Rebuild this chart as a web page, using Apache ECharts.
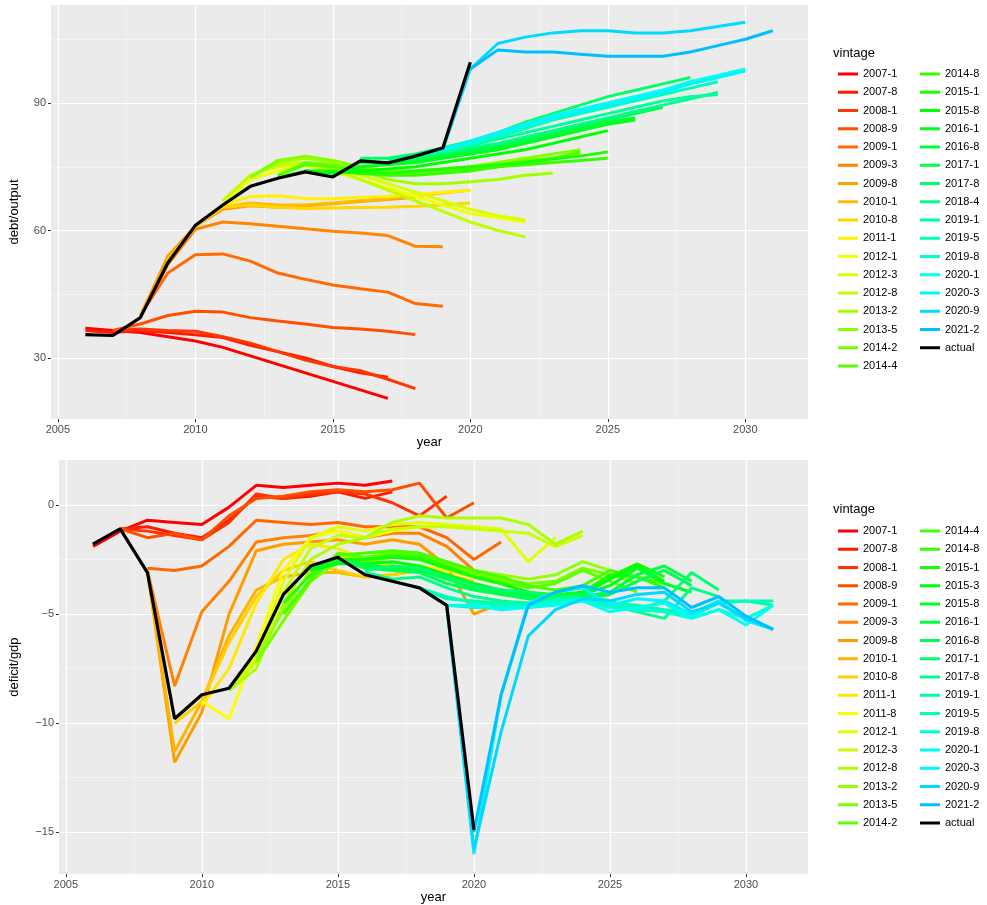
<!doctype html>
<html>
<head>
<meta charset="UTF-8">
<title>vintage</title>
<script src="https://cdn.jsdelivr.net/npm/echarts@6/dist/echarts.min.js"></script>
<style>html,body{margin:0;padding:0;background:#fff}#main{width:987px;height:905px}</style>
</head>
<body>
<div id="main"></div>
<script>
// ---- debt/output (top panel) ----
var debtVintages = ['2007-1','2007-8','2008-1','2008-9','2009-1','2009-3','2009-8','2010-1','2010-8','2011-1',
  '2012-1','2012-3','2012-8','2013-2','2013-5','2014-2','2014-4','2014-8','2015-1','2015-8','2016-1','2016-8',
  '2017-1','2017-8','2018-4','2019-1','2019-5','2019-8','2020-1','2020-3','2020-9','2021-2'];
var debtStart = [2006,2006,2007,2007,2008,2008,2008,2009,2009,2010,
  2011,2011,2011,2012,2012,2013,2013,2013,2014,2014,2015,2015,
  2016,2016,2017,2018,2018,2018,2019,2019,2019,2020];
var debtValues = [
  [37,36.5,36,35,34,32.5,30.5,28.5,26.5,24.5,22.5,20.5],
  [36.5,36,36.5,36,35.5,34.8,33,31.5,30,28,26.5,25.5],
  [36.5,36.8,36.5,36.3,35,33.5,31.5,29.5,28,27,25,22.8],
  [36.5,38,40,41,40.8,39.5,38.7,38,37.2,36.8,36.3,35.5],
  [40,50,54.3,54.5,52.8,50,48.5,47.2,46.3,45.5,42.8,42.2],
  [40,52,60.3,62,61.6,61,60.4,59.8,59.4,58.8,56.3,56.2],
  [40,54,61,65,65.8,65.5,65.8,66.3,66.8,67.3,67.8],
  [53,61,65.5,66.5,66,66,66.5,67,67.5,68.2,68.8,69.5],
  [53,61,65.5,66,65.5,65.2,65.3,65.4,65.5,65.7,66,66.5],
  [61,66,68,68.2,67.5,67.5,67.8,68,68.5,69,69.5],
  [66,72,74,75.3,74,72,70,68,66,64,63,62],
  [67,73,75,75.5,74.5,73,71,69,67,65,63.5,62.5],
  [67,73,75.5,76,74.5,72,69.5,67,64.5,62,60,58.5],
  [72.5,76,77,76,74,72,71,71,71.5,72,73,73.5],
  [72.5,76.5,77.5,76.5,75,74,74,74.5,75,76,77,78,79],
  [73,76,75.5,74.5,73.5,73.5,74,74.5,75.5,76.5,77,78],
  [73,75.5,75,74,73.5,73.5,73.8,74.3,75,76,77,78.5],
  [72.5,74,74,73.5,73,73,73.5,74,75,75.5,76,76.5,77],
  [74,74,73.5,73.5,74,74.5,75,75.5,76,76.8,77.5,78.5],
  [74,73.5,74,74.5,75,76,77,78,79,80.5,82,83.5],
  [73,75,75.5,76,77,78,79,80.5,82,83.5,85,86],
  [73,76,76,76.5,77.5,78.5,79.5,81,82.5,84,85.5,86.5],
  [76,76,77,78,79,80,81.5,83,84.5,86,87.5,89],
  [77,77,78,79.5,81,83,85.5,87.5,89.5,91.5,93,94.5,96],
  [76.5,77.5,78.5,79.5,80.5,82,83.5,85,86.5,88,89.5,91,92.5],
  [77.5,78.5,80,81.5,83,84.5,86,87.5,89,90.5,91.5,92],
  [77.5,79,80.5,82,84,86,87.5,89,90.5,92,93.5,95],
  [77.5,79,80.5,82.5,84.5,86.5,88.5,90,91.5,93,94.5,96],
  [79,81,83,85,87,88.5,90,91.5,93,95,96.5,98],
  [79,81,83,85,86.5,88,89.5,91,92.5,94.5,96,97.5],
  [79,98,104,105.5,106.5,107,107,106.5,106.5,107,108,109],
  [98,102.5,102,102,101.5,101,101,101,102,103.5,105,107]
];
var debtActualStart = 2006;
var debtActual = [35.5,35.3,39.5,52.4,61.2,66,70.4,72.3,73.8,72.6,76.4,75.9,77.5,79.4,99.6];

// ---- deficit/gdp (bottom panel) ----
var defVintages = ['2007-1','2007-8','2008-1','2008-9','2009-1','2009-3','2009-8','2010-1','2010-8','2011-1','2011-8',
  '2012-1','2012-3','2012-8','2013-2','2013-5','2014-2','2014-4','2014-8','2015-1','2015-3','2015-8','2016-1','2016-8',
  '2017-1','2017-8','2019-1','2019-5','2019-8','2020-1','2020-3','2020-9','2021-2'];
var defStart = [2006,2006,2007,2007,2008,2008,2008,2008,2009,2010,2010,
  2011,2011,2011,2012,2012,2013,2013,2013,2014,2014,2014,2015,2015,
  2016,2016,2018,2018,2018,2019,2019,2019,2020];
var defValues = [
  [-1.9,-1.2,-0.7,-0.8,-0.9,-0.1,0.9,0.8,0.9,1.0,0.9,1.1],
  [-1.8,-1.1,-1.0,-1.3,-1.5,-0.7,0.4,0.3,0.4,0.6,0.3,0.6],
  [-1.1,-1.2,-1.4,-1.6,-0.8,0.5,0.3,0.5,0.6,0.5,0.1,-0.5,0.4],
  [-1.1,-1.5,-1.3,-1.6,-0.5,0.3,0.4,0.6,0.7,0.6,0.7,1.0,-0.6,0.1],
  [-2.9,-3.0,-2.8,-1.9,-0.7,-0.8,-0.9,-0.8,-1.0,-1.0,-1.0,-1.5,-2.5,-1.7],
  [-3.0,-8.3,-4.9,-3.5,-1.7,-1.5,-1.4,-1.2,-1.5,-1.3,-1.3,-1.9,-3.0],
  [-3.0,-11.8,-9.5,-5.0,-2.1,-1.8,-1.7,-1.6,-1.8,-1.6,-1.8,-2.8,-5.0,-4.5],
  [-3.0,-11.3,-9.0,-6.0,-3.9,-3.3,-3.1,-3.1,-3.3,-3.2,-3.0,-3.2,-3.6],
  [-10.0,-9.0,-6.3,-4.2,-3.0,-2.6,-3.0,-3.3,-3.2,-3.0,-3.2,-3.5],
  [-9.2,-7.5,-4.5,-2.5,-1.8,-2.0,-2.5,-2.8,-2.8,-3.0,-3.3,-3.4],
  [-9.0,-9.8,-6.5,-3.0,-1.5,-1.2,-1.5,-1.2,-1.0,-1.0,-1.0,-1.2],
  [-8.5,-7.0,-3.5,-1.5,-1.0,-1.2,-0.9,-0.8,-0.9,-1.0,-1.1,-2.6,-1.5],
  [-8.5,-7.2,-4.0,-2.0,-1.4,-1.5,-1.1,-1.0,-1.0,-1.1,-1.2,-1.3,-1.9,-1.4],
  [-8.5,-7.5,-4.5,-2.5,-1.8,-1.5,-0.8,-0.5,-0.6,-0.6,-0.6,-0.9,-1.8,-1.2],
  [-7.0,-4.8,-3.0,-2.3,-2.5,-2.4,-2.3,-2.6,-3.0,-3.2,-3.4,-3.2,-2.6,-3.0,-3.3],
  [-7.2,-5.3,-3.5,-2.6,-2.6,-2.4,-2.3,-2.7,-3.1,-3.4,-3.6,-3.5,-2.9,-3.2,-3.6],
  [-5.0,-3.5,-2.2,-2.4,-2.2,-2.3,-2.8,-3.2,-3.5,-3.8,-3.6,-3.0,-3.5,-4.0],
  [-5.0,-3.4,-2.3,-2.2,-2.1,-2.2,-2.6,-3.0,-3.3,-3.7,-3.9,-3.7,-3.0,-3.3,-3.6],
  [-4.5,-3.2,-2.5,-2.5,-2.3,-2.4,-2.8,-3.3,-3.6,-4.0,-4.1,-4.0,-3.2,-3.3,-3.8],
  [-3.0,-2.6,-2.5,-2.4,-2.5,-2.9,-3.3,-3.6,-4.0,-4.2,-4.0,-3.3,-2.7,-3.3],
  [-3.0,-2.7,-2.7,-2.6,-2.8,-3.2,-3.6,-3.9,-4.2,-4.3,-4.1,-3.4,-2.8,-3.5],
  [-2.9,-2.6,-2.8,-2.9,-2.9,-3.3,-3.7,-3.9,-4.1,-4.2,-4.1,-3.7,-2.9,-3.6,-4.0],
  [-2.5,-2.7,-2.9,-3.0,-3.4,-3.8,-4.0,-4.2,-4.3,-4.2,-4.0,-3.2,-2.8,-3.5],
  [-2.5,-2.9,-3.0,-3.1,-3.6,-3.9,-4.1,-4.3,-4.4,-4.3,-4.1,-3.5,-3.0,-3.7],
  [-3.0,-2.8,-2.9,-3.3,-3.7,-3.9,-4.0,-4.2,-4.1,-4.4,-4.8,-4.4,-3.1,-3.9],
  [-3.1,-3.4,-3.3,-3.8,-4.2,-4.4,-4.5,-4.4,-4.3,-4.6,-4.9,-5.2,-3.8,-4.2],
  [-3.8,-4.3,-4.4,-4.5,-4.5,-4.3,-4.3,-4.5,-4.6,-4.8,-5.0,-4.4,-4.4,-4.6],
  [-3.8,-4.2,-4.5,-4.6,-4.6,-4.4,-4.3,-4.5,-4.7,-4.9,-5.1,-4.5,-4.4,-4.4],
  [-3.8,-4.6,-4.7,-4.7,-4.7,-4.5,-4.4,-4.7,-4.8,-4.9,-5.2,-4.8,-5.2,-4.6],
  [-4.6,-4.6,-4.8,-4.7,-4.6,-4.4,-4.9,-4.7,-4.5,-5.2,-4.8,-5.5,-4.6],
  [-4.6,-16.0,-8.7,-4.5,-4.0,-3.8,-4.6,-4.3,-4.4,-5.0,-4.4,-5.3,-5.7],
  [-4.6,-15.8,-10.4,-6.0,-4.8,-4.3,-4.4,-4.1,-4.0,-4.9,-4.5,-5.2,-5.7],
  [-15.0,-8.7,-4.6,-4.0,-3.7,-4.0,-3.8,-3.8,-4.7,-4.2,-5.1,-5.7]
];
var defActualStart = 2006;
var defActual = [-1.8,-1.1,-3.1,-9.8,-8.7,-8.4,-6.7,-4.1,-2.8,-2.4,-3.2,-3.5,-3.8,-4.6,-14.9];

var xMajor = [2005,2010,2015,2020,2025,2030];
var xMinor = [2007.5,2012.5,2017.5,2022.5,2027.5];
var debtMajor = [30,60,90];
var debtMinor = [15,45,75,105];
var defMajor = [-15,-10,-5,0];
var defMinor = [-12.5,-7.5,-2.5];

var FONT = 'Liberation Sans';
var myChart = echarts.init(document.getElementById('main'));

function hueColor(i, n) {
  return 'hsl(' + (i * 195 / (n - 1)).toFixed(1) + ',100%,50%)';
}
function toPoints(start, vals) {
  return vals.map(function (v, k) { return [start + k, v]; });
}

var series = [];
var legends = [];
var xAxes = [], yAxes = [];

function buildPanel(gi, names, starts, values, aStart, aVals, yMin, yMax, yMajor, yMinor, legendTop) {
  var n = names.length;
  // major axes (labels, ticks, main grid) and minor axes (thin grid only)
  xAxes.push({
    type: 'value', gridIndex: gi, min: 2004.75, max: 2032.28, position: 'bottom',
    name: 'year', nameLocation: 'middle', nameGap: 14,
    nameTextStyle: {fontFamily: FONT, fontSize: 13, color: '#000'},
    axisLine: {show: false, onZero: false},
    axisTick: {show: true, customValues: xMajor, length: 3, lineStyle: {color: '#333'}},
    axisLabel: {customValues: xMajor, color: '#4d4d4d', fontFamily: FONT, fontSize: 11, margin: 5,
      formatter: function (v) { return String(v); }},
    splitLine: {show: true, lineStyle: {color: '#fff', width: 1.2}}
  });
  xAxes.push({
    type: 'value', gridIndex: gi, min: 2004.75, max: 2032.28, position: 'bottom',
    axisLine: {show: false, onZero: false}, axisLabel: {show: false, customValues: xMinor},
    axisTick: {show: false, customValues: xMinor},
    splitLine: {show: true, lineStyle: {color: '#fafafa', width: 0.6}}
  });
  yAxes.push({
    type: 'value', gridIndex: gi, min: yMin, max: yMax, position: 'left',
    name: gi === 0 ? 'debt/output' : 'deficit/gdp',
    nameLocation: 'middle', nameGap: gi === 0 ? 30 : 38, nameRotate: 90,
    nameTextStyle: {fontFamily: FONT, fontSize: 13, color: '#000'},
    axisLine: {show: false, onZero: false},
    axisTick: {show: true, customValues: yMajor, length: 3, lineStyle: {color: '#333'}},
    axisLabel: {customValues: yMajor, color: '#4d4d4d', fontFamily: FONT, fontSize: 11, margin: 5,
      formatter: function (v) { return v < 0 ? '\u2212' + Math.abs(v) : String(v); }},
    splitLine: {show: true, lineStyle: {color: '#fff', width: 1.2}}
  });
  yAxes.push({
    type: 'value', gridIndex: gi, min: yMin, max: yMax, position: 'left',
    axisLine: {show: false, onZero: false}, axisLabel: {show: false, customValues: yMinor},
    axisTick: {show: false, customValues: yMinor},
    splitLine: {show: true, lineStyle: {color: '#fafafa', width: 0.6}}
  });
  var xi = gi * 2, yi = gi * 2;
  var legendData = [];
  for (var i = 0; i < n; i++) {
    var c = hueColor(i, n);
    series.push({
      name: names[i], type: 'line', xAxisIndex: xi, yAxisIndex: yi, showSymbol: false, symbol: 'none',
      lineStyle: {width: 3, color: c}, itemStyle: {color: c}, silent: true, animation: false,
      data: toPoints(starts[i], values[i])
    });
    legendData.push({name: names[i], itemStyle: {color: c}});
  }
  series.push({
    name: 'actual', type: 'line', xAxisIndex: xi, yAxisIndex: yi, symbol: 'none',
    lineStyle: {width: 3.2, color: '#000'}, itemStyle: {color: '#000'}, silent: true, animation: false,
    data: toPoints(aStart, aVals), z: 5
  });
  legendData.push({name: 'actual', itemStyle: {color: '#000'}});
  var half = Math.ceil(legendData.length / 2);
  var cols = [legendData.slice(0, half), legendData.slice(half)];
  cols.forEach(function (col, ci) {
    legends.push({
      data: col, orient: 'vertical', left: ci === 0 ? 833 : 915, top: legendTop,
      icon: 'rect', itemWidth: 20, itemHeight: 3, itemGap: 4.25, selectedMode: false,
      textStyle: {fontFamily: FONT, fontSize: 11, color: '#000', lineHeight: 14}
    });
  });
}

buildPanel(0, debtVintages, debtStart, debtValues, debtActualStart, debtActual,
  15.65, 113.06, debtMajor, debtMinor, 62);
buildPanel(1, defVintages, defStart, defValues, defActualStart, defActual,
  -16.92, 2.06, defMajor, defMinor, 519);

var option = {
  backgroundColor: '#fff',
  animation: false,
  grid: [
    {left: 49, top: 5, width: 759, height: 414, show: true, backgroundColor: '#ebebeb', borderWidth: 0},
    {left: 56, top: 460, width: 752, height: 415, show: true, backgroundColor: '#ebebeb', borderWidth: 0}
  ],
  graphic: [
    {type: 'text', left: 833, top: 47, style: {text: 'vintage', font: '13px "Liberation Sans"', fill: '#000'}},
    {type: 'text', left: 833, top: 503, style: {text: 'vintage', font: '13px "Liberation Sans"', fill: '#000'}}
  ],
  legend: legends,
  xAxis: xAxes,
  yAxis: yAxes,
  series: series
};
myChart.setOption(option);
</script>
</body>
</html>
